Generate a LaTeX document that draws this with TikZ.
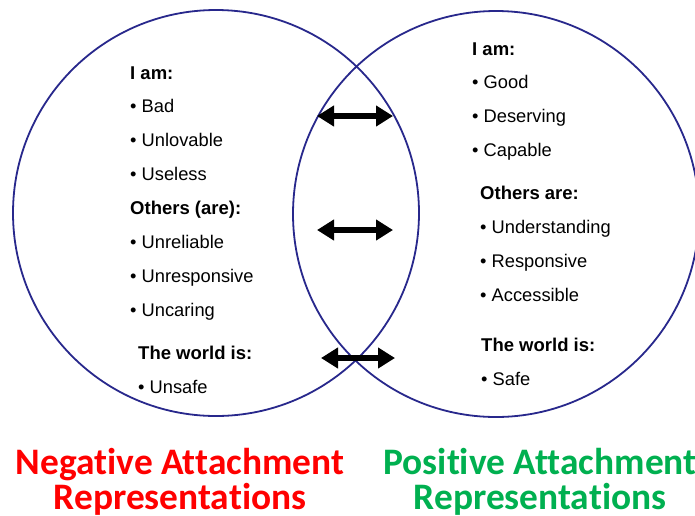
\documentclass[tikz,border=0pt]{standalone}
\usepackage{fontspec}
\setmainfont{Liberation Sans}
\newfontfamily\titlefont[Ligatures=NoCommon]{Carlito}
\usetikzlibrary{arrows.meta}
\definecolor{ringblue}{RGB}{40,40,140}
\definecolor{negred}{RGB}{255,0,0}
\definecolor{posgreen}{RGB}{0,176,80}
\begin{document}
\begin{tikzpicture}[x=1pt,y=-1pt,
  ring/.style={draw=ringblue,line width=1.8pt},
  head/.style={anchor=base west,inner sep=0pt,font=\fontsize{18.5}{20}\selectfont\bfseries},
  item/.style={anchor=base west,inner sep=0pt,font=\fontsize{18.3}{20}\selectfont},
  link/.style={line width=6pt,{Triangle[length=17pt,width=20pt]}-{Triangle[length=17pt,width=20pt]}},
  title/.style={anchor=base,inner sep=0pt,font=\titlefont\fontsize{37.4}{38}\selectfont\bfseries}]
\useasboundingbox (0,0) rectangle (695,515);
\fill[white] (0,0) rectangle (695,515);

% the two overlapping circles
\draw[ring] (216,213) circle[radius=203];
\draw[ring] (496,214) circle[radius=203];

% negative representations
\node[head] (nIam) at (130,79) {I am:};
\node[item] (nBad) at (130,112.7) {• Bad};
\node[item] (nUnlov) at (130,146) {• Unlovable};
\node[item] (nUseless) at (130,180) {• Useless};
\node[head] (nOthers) at (130,214) {Others (are):};
\node[item] (nUnrel) at (130,248) {• Unreliable};
\node[item] (nUnresp) at (130,282) {• Unresponsive};
\node[item] (nUncar) at (130,316.5) {• Uncaring};
\node[head] (nWorld) at (138,359) {The world is:};
\node[item] (nUnsafe) at (138,393) {• Unsafe};

% positive representations
\node[head] (pIam) at (472,55) {I am:};
\node[item] (pGood) at (472,88.5) {• Good};
\node[item] (pDes) at (472,122.5) {• Deserving};
\node[item] (pCap) at (472,156.5) {• Capable};
\node[head] (pOthers) at (480,199.5) {Others are:};
\node[item] (pUnder) at (480,233.5) {• Understanding};
\node[item] (pResp) at (480,267) {• Responsive};
\node[item] (pAcc) at (480,301) {• Accessible};
\node[head] (pWorld) at (481,351.5) {The world is:};
\node[item] (pSafe) at (481,385) {• Safe};

% arrows across the overlap
\coordinate (a1l) at (317,116);
\coordinate (a1r) at (393,116);
\coordinate (a2l) at (317,230);
\coordinate (a2r) at (393,230);
\coordinate (a3l) at (321,358);
\coordinate (a3r) at (395,358);
\draw[link] (a1l) -- (a1r);
\draw[link] (a2l) -- (a2r);
\draw[link] (a3l) -- (a3r);

% captions
\node[title,text=negred] (negA) at (180,474) {Negative Attachment};
\node[title,text=negred] (negB) at (180,509) {Representations};
\node[title,text=posgreen] (posA) at (540,474) {Positive Attachment};
\node[title,text=posgreen] (posB) at (540,509) {Representations};
\end{tikzpicture}
\end{document}
